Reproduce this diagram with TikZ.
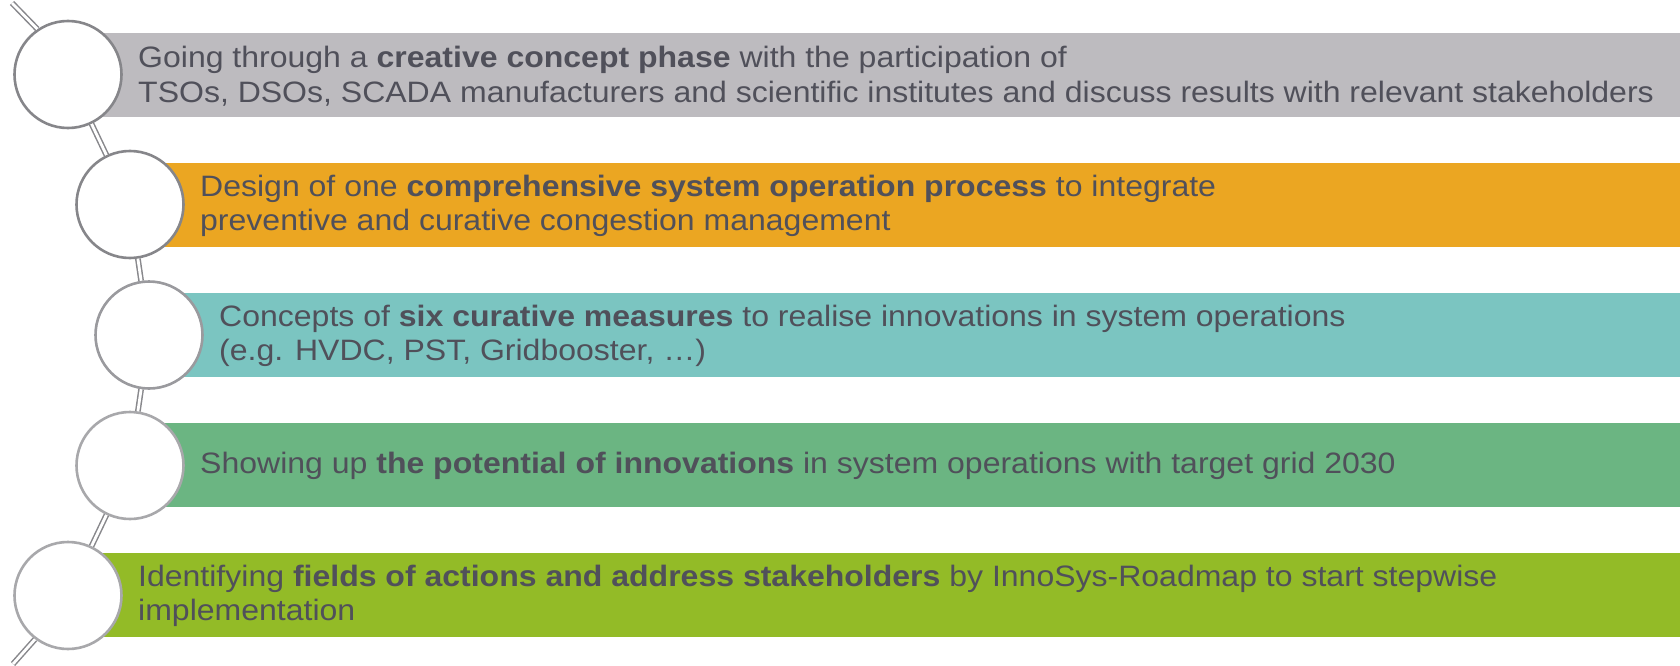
\documentclass[tikz,border=0pt]{standalone}
\usepackage{fontspec}
\setmainfont{Liberation Sans}[FakeStretch=1.085]
\definecolor{bargray}{HTML}{BDBBBF}
\definecolor{barorange}{HTML}{EBA622}
\definecolor{barteal}{HTML}{7BC5C1}
\definecolor{bargreen}{HTML}{6BB582}
\definecolor{barlime}{HTML}{93BB27}
\definecolor{txtgray}{HTML}{50505A}
\definecolor{ringA}{HTML}{86868A}
\definecolor{ringB}{HTML}{9A9A9E}
\definecolor{ringC}{HTML}{A8A8AB}
\definecolor{linkgray}{HTML}{88888C}
\begin{document}
\begin{tikzpicture}[x=1pt,y=-1pt,
  ring/.style={circle,minimum size=107pt,inner sep=0pt,fill=white,line width=2.6pt},
  link/.style={draw=linkgray,line width=1.5pt,double=white,double distance=2.8pt},
  txt/.style={anchor=west,inner sep=0pt,align=left,text=txtgray,
    font=\fontsize{29.5}{34.4}\selectfont}]
\useasboundingbox (0,0) rectangle (1680,666);
% bars
\fill[bargray]   (68,33)  rectangle (1680,117);
\fill[barorange] (130,163) rectangle (1680,247);
\fill[barteal]   (149,293) rectangle (1680,377);
\fill[bargreen]  (130,423) rectangle (1680,507);
\fill[barlime]   (68,553) rectangle (1680,637);
% circles
\node[ring,draw=ringA] (c1) at (68,74.5) {};
\node[ring,draw=ringA] (c2) at (130,204.5) {};
\node[ring,draw=ringB] (c3) at (149,335) {};
\node[ring,draw=ringC] (c4) at (130,465.5) {};
\node[ring,draw=ringC] (c5) at (68,595.5) {};
% connectors
\coordinate (s0) at (12,3);
\coordinate (s6) at (13,664);
\draw[link] (s0) -- (c1.124);
\draw[link] (c1) -- (c2);
\draw[link] (c2) -- (c3);
\draw[link] (c3) -- (c4);
\draw[link] (c4) -- (c5);
\draw[link] (c5.233) -- (s6);
% texts
\node[txt] (t1) at (138,76) {Going through a \textbf{creative concept phase} with the participation of\\TSOs, DSOs, SCADA manufacturers and scientific institutes and discuss results with relevant stakeholders};
\node[txt] (t2) at (200,206) {Design of one \textbf{comprehensive system operation process} to integrate\\preventive and curative congestion management};
\node[txt] (t3) at (219,336) {Concepts of \textbf{six curative measures} to realise innovations in system operations\\(e.g. HVDC, PST, Gridbooster, …)};
\node[txt] (t4) at (200,466) {Showing up \textbf{the potential of innovations} in system operations with target grid 2030};
\node[txt] (t5) at (138,596) {Identifying \textbf{fields of actions and address stakeholders} by InnoSys-Roadmap to start stepwise\\implementation};
\end{tikzpicture}
\end{document}
